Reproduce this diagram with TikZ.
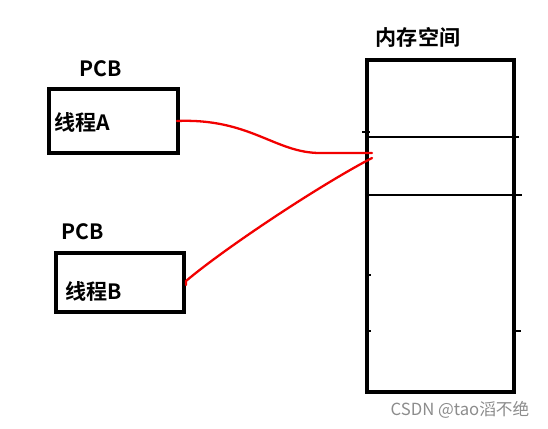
\documentclass[tikz,border=0pt]{standalone}
\usepackage{fontspec}
\newfontfamily\cjk{Noto Sans CJK SC}
\newfontfamily\cjkbold{Noto Sans CJK SC Bold}
\usetikzlibrary{positioning}

\begin{document}
\begin{tikzpicture}[x=0.02cm, y=-0.02cm, line join=miter]

	\tikzset{
		pcb/.style={
				rectangle, draw=black, line width=2.3pt, inner sep=0pt, minimum width=2.58cm, minimum height=1.28cm
			},
		mem/.style={
				rectangle, draw=black, line width=2.5pt, inner sep=0pt, minimum width=2.94cm, minimum height=6.64cm
			},
		lbl/.style={
				font=\cjkbold\fontsize{12}{14}\selectfont, inner sep=0pt
			},
		memlink/.style={
				draw=red!95!black, line width=1.3pt, line cap=round
			},
		slot/.style={
				draw=black, line width=1.2pt
			},
	}
	\useasboundingbox (0,0) rectangle (548,429);

	% the two PCBs
	\node[pcb](boxA) at (113.5,121){};
	\node[pcb, minimum width=2.56cm, minimum height=1.18cm](boxB) at (120,282.5){};
	\node[lbl](pcbA) at (101,69){PCB};
	\node[lbl](pcbB) at (83,232){PCB};
	\node[lbl, anchor=west](tA) at (54,122){线程A};
	\node[lbl, anchor=west](tB) at (65,291){线程B};

	% memory
	\node[mem](ram) at (440.5,226){};
	\node[lbl](ramlbl) at (418,37){内存空间};
	\coordinate (r1) at (519,137);
	\coordinate (r2) at (522,195);
	\draw[slot] (ram.west |- r1) -- (r1);
	\draw[slot] (ram.west |- r2) -- (r2);
	\draw[slot] (362,132) -- (370,132);
	\draw[slot] (512,331) -- (521,331);
	\draw[line width=1pt] (367,275) -- (371,275);
	\draw[line width=1pt] (367,331) -- (371,331);

	% links
	\coordinate (hitA) at (372,153);
	\coordinate (hitB) at (372,158);
	\draw[memlink] ([xshift=-0.06cm]boxA.east) .. controls (250,118) and (275,153) .. (320,153) -- (hitA);
	\draw[memlink] (186,285) -- (186,281) .. controls (225,248) and (320,185) .. (hitB);

	\node[font=\cjk\fontsize{9.5}{11}\selectfont, text=black!45](wm) at (460,410){CSDN @tao滔不绝};

\end{tikzpicture}
\end{document}
